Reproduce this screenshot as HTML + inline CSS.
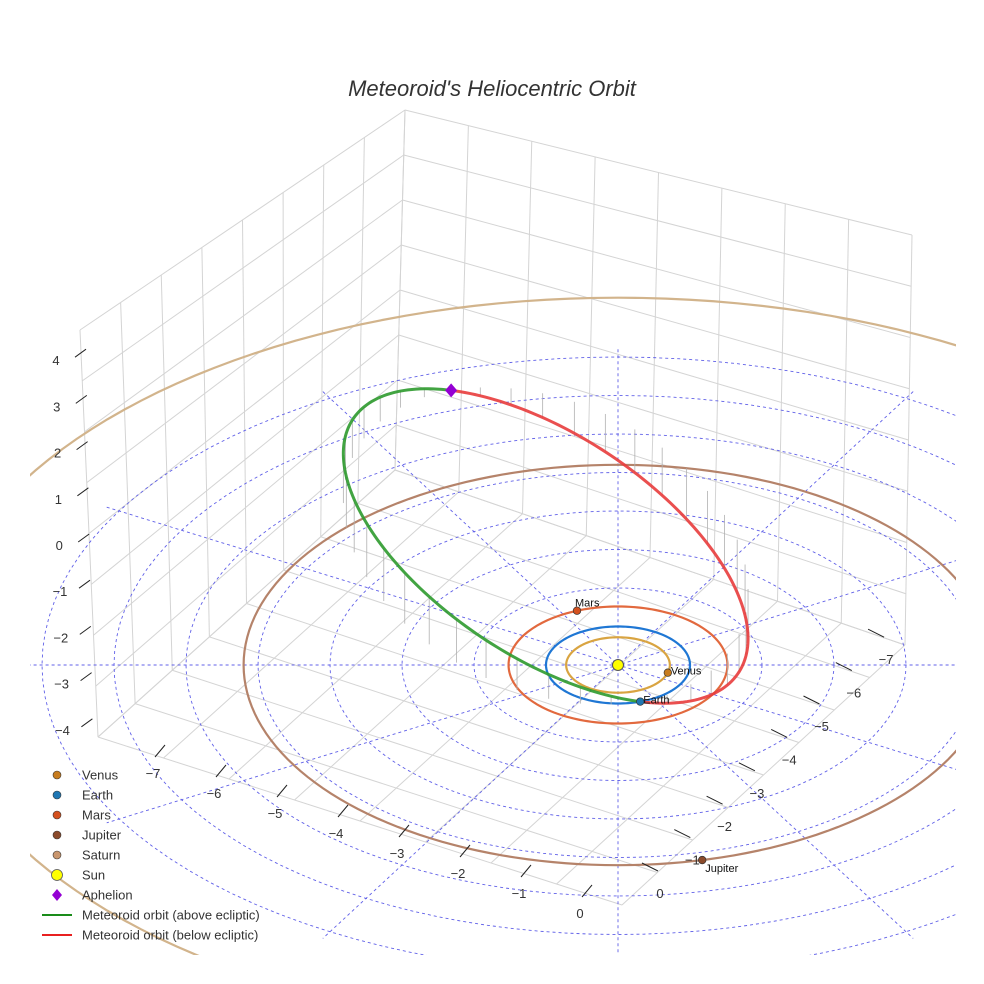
<!DOCTYPE html>
<html><head><meta charset="utf-8"><style>
html,body{margin:0;padding:0;background:#fff;overflow:hidden;width:984px;height:984px;}
svg{display:block;font-family:"Liberation Sans",Arial,sans-serif;}
</style></head><body>
<svg id="chart" width="984" height="984" viewBox="0 0 984 984">
<defs><clipPath id="clip"><rect x="30" y="60" width="926" height="895"/></clipPath></defs>
<rect width="984" height="984" fill="#fff"/>
<text x="492" y="96" text-anchor="middle" font-size="22" font-style="italic" fill="#333">Meteoroid's Heliocentric Orbit</text>
<g id="box"></g>
<g id="plane" clip-path="url(#clip)"></g>
<g id="orbits" clip-path="url(#clip)"></g>
<g id="marks"></g>
<g id="axes"></g>
<g id="legend"></g>
</svg>
<script>
// ---- data ----
const planetNames = ["Venus","Earth","Mars","Jupiter","Saturn"];
const planetRadii = [0.72, 1.0, 1.52, 5.2, 9.54];
const planetAngles = [16, 72, -112, 77, 0];
const planetColors = ["#d9a441","#1f77d4","#e2693e","#b5836a","#d2b48c"];
const markerColors = ["#c77c1e","#1f77b4","#d4511e","#8b4a2b","#c9966e"];
const showPlanet = [true,true,true,true,false];
const gridRadii = [1,2,3,4,5,6,7,8];
const gridAngles = [0,30,60,90,120,150];
const meteorQ = 7.5, meteorq = 1.0, meteorB = 2.86, meteorIncl = 24, meteorPeriAngle = 72;
const zTicks = [4,3,2,1,0,-1,-2,-3,-4];
const xTicks = [-7,-6,-5,-4,-3,-2,-1,0];
const yTicks = [0,-1,-2,-3,-4,-5,-6,-7];
const legendLabels = ["Venus","Earth","Mars","Jupiter","Saturn","Sun","Aphelion","Meteoroid orbit (above ecliptic)","Meteoroid orbit (below ecliptic)"];

const NS="http://www.w3.org/2000/svg";
function P(X,Y,Z){return [618+72*X, 665+38.5*Y-46*Z];}
function mk(parent,tag,attrs){const e=document.createElementNS(NS,tag);for(const k in attrs)e.setAttribute(k,attrs[k]);parent.appendChild(e);return e;}
function lerp(a,b,t){return [a[0]+(b[0]-a[0])*t,a[1]+(b[1]-a[1])*t];}
const box=document.getElementById('box'),plane=document.getElementById('plane'),orb=document.getElementById('orbits'),marks=document.getElementById('marks'),axes=document.getElementById('axes'),leg=document.getElementById('legend');

// ---- box ----
const Lb=[98,737],Lt=[80,330],Bb=[395,470],Bt=[405,110],Rb=[905,645],Rt=[912,235],F=[622,905];
function gl(a,b,c){const l=mk(box,'line',{x1:a[0],y1:a[1],x2:b[0],y2:b[1],stroke:c||'#d4d4d4','stroke-width':1});

}
for(let k=0;k<=8;k++){const t=k/8;
 gl(lerp(Lb,Bb,t),lerp(Lt,Bt,t));
 gl(lerp(Bb,Rb,t),lerp(Bt,Rt,t));
 gl(lerp(Lb,F,t),lerp(Bb,Rb,t));
 gl(lerp(F,Rb,t),lerp(Lb,Bb,t));
}
for(let k=0;k<=8;k++){const t=k/8;
 gl(lerp(Lb,Lt,t),lerp(Bb,Bt,t));
 gl(lerp(Bb,Bt,t),lerp(Rb,Rt,t));
}

// ---- ecliptic polar grid ----
function dash(el){el.setAttribute('stroke','#6060e8');el.setAttribute('stroke-width','0.9');el.setAttribute('stroke-dasharray','3,3');el.setAttribute('fill','none');}
gridRadii.forEach(r=>{let pts=[];for(let a=0;a<=360;a+=3){const t=a*Math.PI/180;pts.push(P(r*Math.cos(t),r*Math.sin(t),0).join(','));}
 const pl=mk(plane,'polyline',{points:pts.join(' ')});dash(pl);
 
 });
gridAngles.forEach(a=>{const t=a*Math.PI/180,R=8.2;const p1=P(-R*Math.cos(t),-R*Math.sin(t),0),p2=P(R*Math.cos(t),R*Math.sin(t),0);
 const l=mk(plane,'line',{x1:p1[0],y1:p1[1],x2:p2[0],y2:p2[1]});dash(l);
 
 });

// ---- planet orbits ----
planetRadii.forEach((r,i)=>{let pts=[];for(let a=0;a<=360;a+=2){const t=a*Math.PI/180;pts.push(P(r*Math.cos(t),r*Math.sin(t),0).join(','));}
 const pl=mk(orb,'polyline',{points:pts.join(' '),fill:'none',stroke:planetColors[i],'stroke-width':2.2});
 
 });

// ---- meteoroid orbit ----
const a=(meteorQ+meteorq)/2, pa=meteorPeriAngle*Math.PI/180, inc=meteorIncl*Math.PI/180;
const m=[Math.cos(pa),Math.sin(pa)], n=[-m[1]*Math.cos(inc),m[0]*Math.cos(inc),Math.sin(inc)];
const C=[-(a-meteorq)*m[0],-(a-meteorq)*m[1]];
function mpos(t){return [C[0]+a*Math.cos(t)*m[0]+meteorB*Math.sin(t)*n[0],C[1]+a*Math.cos(t)*m[1]+meteorB*Math.sin(t)*n[1],meteorB*Math.sin(t)*n[2]];}
const N=120;
for(let k=0;k<N;k++){const t=2*Math.PI*k/N;if(k%3)continue;const q=mpos(t);if(Math.abs(q[2])<0.15)continue;
 const p1=P(q[0],q[1],q[2]),p2=P(q[0],q[1],0);
 const l=mk(orb,'line',{x1:p1[0],y1:p1[1],x2:p2[0],y2:p2[1],stroke:'#b0b0b0','stroke-width':0.8});
 
 }
let gp=[],rp=[];
for(let k=0;k<=N;k++){const t=Math.PI*k/N;gp.push(P(...mpos(t)).join(','));rp.push(P(...mpos(Math.PI+t)).join(','));}
const gL=mk(orb,'polyline',{points:gp.join(' '),fill:'none',stroke:'#2e9a2e','stroke-width':3,'stroke-opacity':0.9});


const rL=mk(orb,'polyline',{points:rp.join(' '),fill:'none',stroke:'#e83c3c','stroke-width':3,'stroke-opacity':0.9});



// ---- markers ----
planetRadii.forEach((r,i)=>{if(!showPlanet[i])return;const t=planetAngles[i]*Math.PI/180;const p=P(r*Math.cos(t),r*Math.sin(t),0);
 const c=mk(marks,'circle',{cx:p[0],cy:p[1],r:3.8,fill:markerColors[i],stroke:'#333','stroke-width':0.7});
 
 
 const up=(planetNames[i]==="Mars");
 const tx=mk(marks,'text',{x:p[0]+(up?-2:3),y:p[1]+(up?-4:(planetNames[i]==="Jupiter"?12:2)),'font-size':11,fill:'#111'});tx.textContent=planetNames[i];
 
 });
const sp=P(0,0,0);
const sun=mk(marks,'circle',{cx:sp[0],cy:sp[1],r:5.5,fill:'#ffff00',stroke:'#555','stroke-width':1});


const ap=P(...mpos(Math.PI));
const aph=mk(marks,'path',{d:`M${ap[0]},${ap[1]-7}L${ap[0]+6},${ap[1]}L${ap[0]},${ap[1]+7}L${ap[0]-6},${ap[1]}Z`,fill:'#9400d3'});



// ---- axes ticks ----
zTicks.forEach(z=>{const y=545-46.2*z, x=56+(4-z)*0.8;
 const t=mk(axes,'text',{x:x,y:y+5,'font-size':13,fill:'#333','text-anchor':'middle'});t.textContent=String(z).replace('-','\u2212');
 
 
 const l=mk(axes,'line',{x1:x+19,y1:y-3,x2:x+30,y2:y-11,stroke:'#222','stroke-width':1});
 
 });
xTicks.forEach(v=>{const k=v+7, x=153+61*k, y=773+20*k;
 const t=mk(axes,'text',{x:x,y:y+5,'font-size':13,fill:'#333','text-anchor':'middle'});t.textContent=String(v).replace('-','\u2212');
 
 
 const l=mk(axes,'line',{x1:x+2,y1:y-16,x2:x+12,y2:y-28,stroke:'#222','stroke-width':1});
 
 });
yTicks.forEach(v=>{const k=-v, x=660+32.3*k, y=893-33.4*k;
 const t=mk(axes,'text',{x:x,y:y+5,'font-size':13,fill:'#333','text-anchor':'middle'});t.textContent=String(v).replace('-','\u2212');
 
 
 const l=mk(axes,'line',{x1:x-18,y1:y-30,x2:x-2,y2:y-22,stroke:'#222','stroke-width':1});
 
 });

// ---- legend ----
const legSym=["c","c","c","c","c","sun","dia","lg","lr"];
const legCol=markerColors.concat(["#ffff00","#9400d3","#1a8c1a","#e82020"]);
legendLabels.forEach((lab,i)=>{const y=775+20*i;const g=mk(leg,'g',{});
 
 
 const s=legSym[i];
 if(s==="c")mk(g,'circle',{cx:57,cy:y,r:4,fill:legCol[i],stroke:'#333','stroke-width':0.6});
 else if(s==="sun")mk(g,'circle',{cx:57,cy:y,r:5.5,fill:'#ffff00',stroke:'#555','stroke-width':0.8});
 else if(s==="dia")mk(g,'path',{d:`M57,${y-6}L62,${y}L57,${y+6}L52,${y}Z`,fill:'#9400d3'});
 else mk(g,'line',{x1:42,y1:y,x2:72,y2:y,stroke:legCol[i],'stroke-width':2});
 const t=mk(g,'text',{x:82,y:y+4.5,'font-size':13,fill:'#333'});t.textContent=lab;});
</script>
</body></html>
